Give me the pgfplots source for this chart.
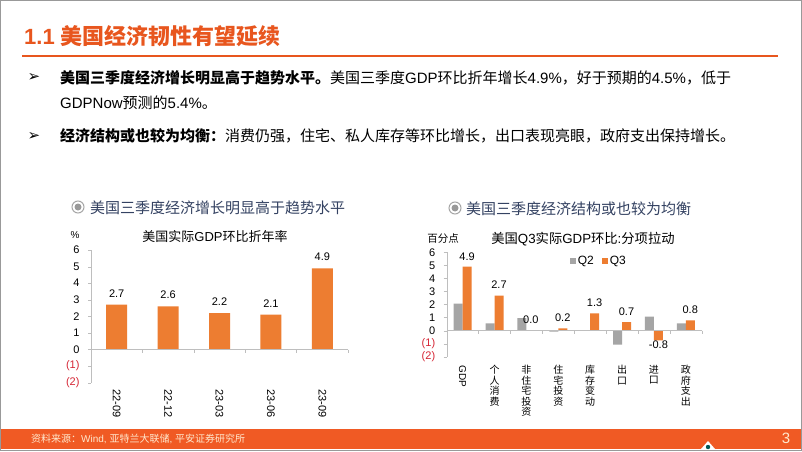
\documentclass[border=0pt]{standalone}
\usepackage{fontspec}
\usepackage{graphicx}
\usepackage{pgfplots}
\pgfplotsset{compat=1.18}
\setmainfont{Liberation Sans}
\newfontfamily\cjk{Noto Sans CJK SC}
\newfontfamily\dejavu{DejaVu Sans}
\definecolor{titleor}{RGB}{232,86,30}
\definecolor{footor}{RGB}{240,90,36}
\definecolor{baror}{RGB}{237,125,49}
\definecolor{bargray}{RGB}{165,165,165}
\definecolor{axisgray}{RGB}{190,190,190}
\definecolor{negred}{RGB}{214,38,53}
\definecolor{headblue}{RGB}{52,66,98}
\definecolor{cream}{RGB}{255,232,205}
\newcommand{\fs}[1]{\fontsize{#1}{#1}\selectfont}
\begin{document}
\begin{tikzpicture}[x=1pt,y=1pt]
\useasboundingbox (0,0) rectangle (802,451);
\fill[white] (0,0) rectangle (802,451);
% title
\node[anchor=west, inner sep=0, text=titleor] at (24,415) {\fs{22}\bfseries 1.1 {\cjk\fs{22}\bfseries 美国经济韧性有望延续}};
\draw[titleor, line width=2pt] (22,395) -- (778,395);
% bullets
\node at (34,373) {\dejavu\fs{15}➢};
\node at (34,315) {\dejavu\fs{15}➢};
\node[anchor=west, inner sep=0] at (60,373) {\fs{15}{\cjk\bfseries 美国三季度经济增长明显高于趋势水平。}{\cjk 美国三季度}GDP{\cjk 环比折年增长}4.9\%{\cjk ，好于预期的}4.5\%{\cjk ，低于}};
\node[anchor=west, inner sep=0] at (60,348) {\fs{15}GDPNow{\cjk 预测的}5.4\%{\cjk 。}};
\node[anchor=west, inner sep=0] at (60,315) {\fs{15}{\cjk\bfseries 经济结构或也较为均衡：}{\cjk 消费仍强，住宅、私人库存等环比增长，出口表现亮眼，政府支出保持增长。}};
% chart headers
\draw[gray!70, line width=1pt, fill=white] (78,244) circle (6);
\fill[gray!80] (78,244) circle (3.5);
\node[anchor=west, inner sep=0, text=headblue] at (90,243) {\cjk\fs{15}美国三季度经济增长明显高于趋势水平};
\draw[gray!70, line width=1pt, fill=white] (455,243) circle (6);
\fill[gray!80] (455,243) circle (3.5);
\node[anchor=west, inner sep=0, text=headblue] at (466,242) {\cjk\fs{15}美国三季度经济结构或也较为均衡};
% left chart texts
\node at (75,216) {\fs{10}\%};
\node at (215,214) {\cjk\fs{13}美国实际{\rmfamily GDP}环比折年率};
% right chart texts
\node at (443,212) {\cjk\fs{10.5}百分点};
\node at (583,212) {\cjk\fs{13.3}美国{\rmfamily Q3}实际{\rmfamily GDP}环比{\rmfamily :}分项拉动};

% ---------- left chart
\begin{axis}[
  at={(91pt,68.3pt)}, anchor=south west,
  width=257pt, height=132.7pt, scale only axis,
  xmin=-0.5, xmax=4.5, ymin=-2, ymax=6,
  axis lines*=left,
  x axis line style={draw=none},
  y axis line style={-, draw=axisgray},
  xtick={0,1,2,3,4},
  xticklabels={22-09,22-12,23-03,23-06,23-09},
  x tick style={draw=none},
  xticklabel style={rotate=-90, anchor=west, font=\fs{11}},
  ytick={-2,-1,0,1,2,3,4,5,6},
  yticklabels={{\color{negred}(2)},{\color{negred}(1)},0,1,2,3,4,5,6},
  y tick style={axisgray},
  yticklabel style={font=\fs{11}, xshift=-5pt},
  tick align=outside, major tick length=3pt,
  /pgf/number format/assume math mode=true,
  ybar, bar width=21pt,
  nodes near coords,
  nodes near coords style={font=\fs{11}, /pgf/number format/fixed, /pgf/number format/fixed zerofill, /pgf/number format/precision=1, /pgf/number format/assume math mode=true, yshift=4pt},
  clip=false,
]
\addplot[fill=baror, draw=none] coordinates {(0,2.7) (1,2.6) (2,2.2) (3,2.1) (4,4.9)};
\draw[axisgray] (axis cs:-0.5,0) -- (axis cs:4.5,0);
\pgfplotsinvokeforeach{0.5,1.5,2.5,3.5,4.5}{\draw[axisgray] (axis cs:#1,0) -- ++(0pt,-3pt);}
\end{axis}

% ---------- right chart
\begin{axis}[
  at={(446.7pt,94.3pt)}, anchor=south west,
  width=255pt, height=104.4pt, scale only axis,
  xmin=-0.5, xmax=7.5, ymin=-2, ymax=6,
  axis lines*=left,
  x axis line style={draw=none},
  y axis line style={-, draw=axisgray},
  xtick={0,1,2,3,4,5,6,7},
  xticklabels={{\rmfamily\rotatebox{-90}{GDP}},{个\\人\\消\\费},{非\\住\\宅\\投\\资},{住\\宅\\投\\资},{库\\存\\变\\动},{出\\口},{进\\口},{政\\府\\支\\出}},
  x tick style={draw=none},
  xticklabel style={align=center, anchor=north, font=\cjk\fontsize{10}{10.5}\selectfont, yshift=-2pt},
  ytick={-2,-1,0,1,2,3,4,5,6},
  yticklabels={{\color{negred}(2)},{\color{negred}(1)},0,1,2,3,4,5,6},
  y tick style={axisgray},
  yticklabel style={font=\fs{11}, xshift=-5pt},
  tick align=outside, major tick length=3pt,
  /pgf/number format/assume math mode=true,
  ybar=0pt, bar width=9pt,
  legend style={at={(0.47,0.917)}, anchor=west, draw=none, fill=none, font=\fs{12}, legend columns=2, /tikz/every even column/.append style={column sep=6pt}},
  clip=false,
]
\addplot[fill=bargray, draw=none, legend image code/.code={\fill[bargray] (0pt,-3pt) rectangle (6pt,3pt);}] coordinates {(0,2.06) (1,0.55) (2,0.95) (3,-0.08) (4,0) (5,-1.08) (6,1.08) (7,0.55)};
\addlegendentry{Q2}
\addplot[fill=baror, draw=none, legend image code/.code={\fill[baror] (0pt,-3pt) rectangle (6pt,3pt);},
  nodes near coords,
  nodes near coords style={font=\fs{11}, /pgf/number format/fixed, /pgf/number format/fixed zerofill, /pgf/number format/precision=1, /pgf/number format/assume math mode=true, yshift=3pt}] coordinates {(0,4.9) (1,2.69) (2,0.01) (3,0.17) (4,1.32) (5,0.65) (6,-0.75) (7,0.79)};
\addlegendentry{Q3}
\draw[axisgray] (axis cs:-0.5,0) -- (axis cs:7.5,0);
\pgfplotsinvokeforeach{0.5,1.5,2.5,3.5,4.5,5.5,6.5,7.5}{\draw[axisgray] (axis cs:#1,0) -- ++(0pt,-3pt);}
\end{axis}

% footer
\fill[footor] (0,2) rectangle (802,22);
\node[anchor=west, inner sep=0, text=cream] at (31,12) {\fs{10}{\cjk 资料来源：}Wind, {\cjk 亚特兰大联储}, {\cjk 平安证券研究所}};
\node[text=cream] at (786,13) {\fs{15}3};
\fill[white] (701,2) -- (708,10) -- (715,2) -- cycle;
\fill[teal!70!black] (708,4) circle (2.2);
\draw[gray!80, line width=1pt] (0.5,0.5) rectangle (801.5,450.5);
\end{tikzpicture}
\end{document}
